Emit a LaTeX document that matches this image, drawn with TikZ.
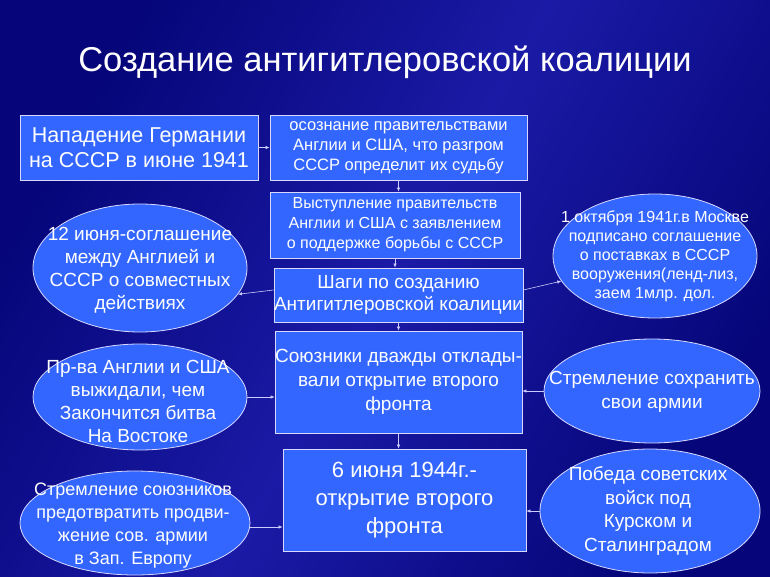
\documentclass[tikz,border=0pt]{standalone}
\usepackage{fontspec}
\setmainfont{Liberation Sans}
\usetikzlibrary{arrows.meta,shapes.geometric}
\definecolor{bg}{HTML}{06067A}
\definecolor{bgl}{HTML}{1A1AA6}
\definecolor{boxf}{HTML}{3366FF}
\tikzset{
 bx/.style={draw=white!85!blue, line width=0.8pt, fill=boxf, text=white, align=center, inner sep=0pt},
 el/.style={draw=white!85!blue, line width=0.8pt, fill=boxf, shape=ellipse},
 tx/.style={text=white, align=center, inner sep=0pt},
 ar/.style={draw=white!80!blue, line width=0.6pt, -{Latex[length=4pt,width=3.5pt]}}
}
\begin{document}
\begin{tikzpicture}[x=1pt,y=-1pt]
\useasboundingbox (0,0) rectangle (770,577);
\shade[left color=bg, right color=bg, middle color=bgl, shading angle=60] (0,0) rectangle (770,577);
\node[tx, font=\fontsize{34.5}{38}\selectfont] (title) at (385,62) {Создание антигитлеровской коалиции};
% boxes
\node[bx, minimum width=238, minimum height=65, font=\fontsize{21.5}{25}\selectfont] (b1) at (139,147.5) {Нападение Германии\\на СССР в июне 1941};
\node[bx, minimum width=257, minimum height=65, font=\fontsize{16.5}{20}\selectfont] (b2) at (398.5,147.5) {осознание правительствами\\Англии и США, что разгром\\СССР определит их судьбу};
\node[bx, minimum width=250, minimum height=66, font=\fontsize{16}{20}\selectfont] (b3) at (395,225) {Выступление правительств\\Англии и США с заявлением\\о поддержке борьбы с СССР};
\node[bx, minimum width=243, minimum height=54, font=\fontsize{19}{22}\selectfont] (b4) at (398.5,295) {Шаги по созданию\\Антигитлеровской коалиции};
\node[bx, minimum width=243, minimum height=102, font=\fontsize{19}{24}\selectfont] (b5) at (398.5,382) {Союзники дважды отклады-\\вали открытие второго\\фронта};
\node[bx, minimum width=243, minimum height=102, font=\fontsize{22}{28}\selectfont] (b6) at (404.5,500) {6 июня 1944г.-\\открытие второго\\фронта};
% ellipses
\node[el, minimum width=214, minimum height=128] (l1) at (140,268) {};
\node[tx, font=\fontsize{19}{23}\selectfont] at (140,270) {12 июня-соглашение\\между Англией и\\СССР о совместных\\действиях};
\node[el, minimum width=204, minimum height=124] (r1) at (655,256) {};
\node[tx, font=\fontsize{16}{19}\selectfont] at (655,256) {1 октября 1941г.в Москве\\подписано соглашение\\о поставках в СССР\\вооружения(ленд-лиз,\\заем 1млр. дол.};
\node[el, minimum width=214, minimum height=106] (l2) at (140,397) {};
\node[tx, font=\fontsize{19}{23}\selectfont] at (138,401) {Пр-ва Англии и США\\выжидали, чем\\Закончится битва\\На Востоке};
\node[el, minimum width=216, minimum height=104] (r2) at (652,391) {};
\node[tx, font=\fontsize{19}{24}\selectfont] at (652,392) {Стремление сохранить\\свои армии};
\node[el, minimum width=230, minimum height=104] (l3) at (135,523) {};
\node[tx, font=\fontsize{18}{23}\selectfont] at (133,526) {Стремление союзников\\предотвратить продви-\\жение сов. армии\\в Зап. Европу};
\node[el, minimum width=220, minimum height=124] (r3) at (650,511) {};
\node[tx, font=\fontsize{19}{23.5}\selectfont] at (648,511) {Победа советских\\войск под\\Курском и\\Сталинградом};
% arrows
\draw[ar] (b1.east) -- (b2.west);
\draw[ar] (b2.south) -- (b2.south|-b3.north);
\draw[ar] (b3.south) -- (b3.south|-b4.north);
\draw[ar] (b4.south) -- (b4.south|-b5.north);
\draw[ar] (b5.south) -- (b5.south|-b6.north);
\draw[ar] ([yshift=5]b4.west) -- (l1.-15);
\draw[ar] ([yshift=5]b4.east) -- (r1.195);
\draw[ar] (l2.east) -- (l2.east-|b5.west);
\draw[ar] (r2.west) -- (r2.west-|b5.east);
\draw[ar] ([yshift=-4]l3.east) -- ([yshift=-4]l3.east-|b6.west);
\draw[ar] (r3.west) -- (r3.west-|b6.east);
\end{tikzpicture}
\end{document}
